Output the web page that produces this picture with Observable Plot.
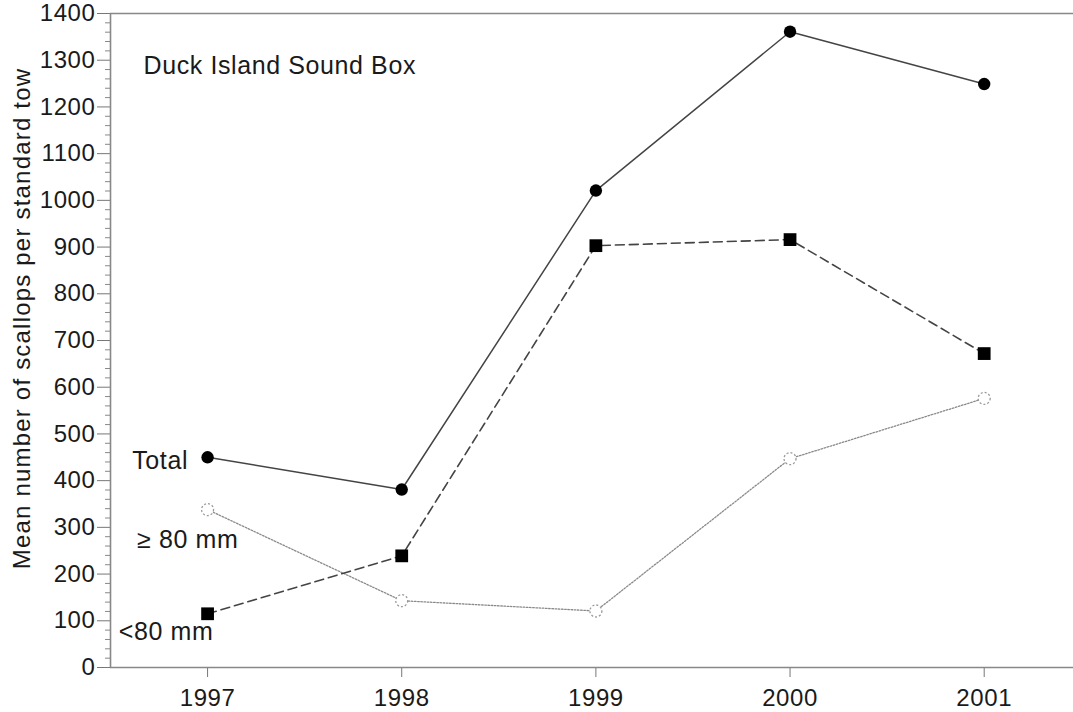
<!DOCTYPE html>
<html>
<head>
<meta charset="utf-8">
<script src="https://cdn.jsdelivr.net/npm/d3@7"></script>
<script src="https://cdn.jsdelivr.net/npm/@observablehq/plot@0.6"></script>
<style>
  html, body { margin: 0; padding: 0; background: white; }
</style>
</head>
<body>
<div id="chart"></div>
<script>
// Data
const years = [1997, 1998, 1999, 2000, 2001];
const total = [450, 381, 1021, 1361, 1249];
const under80 = [115, 239, 903, 916, 672];   // <80 mm
const over80 = [338, 143, 121, 447, 576];    // ≥ 80 mm
const yMajor = d3.range(0, 1401, 100);
const yMinor = d3.range(0, 1401, 20).filter(v => v % 100 !== 0);
const seriesLabels = ["Total", "≥ 80 mm", "<80 mm"];
const seriesLabelX = [1996.612, 1996.637, 1996.543];
const seriesLabelY = [442, 274, 75];
const titleText = "Duck Island Sound Box";
const yTitle = "Mean number of scallops per standard tow";

const tbl = (vals) => years.map((y, i) => ({year: y, v: vals[i]}));
const labelRows = seriesLabels.map((t, i) => ({t, x: seriesLabelX[i], y: seriesLabelY[i]}));

const chart = Plot.plot({
  width: 1073,
  height: 712,
  marginLeft: 110,
  marginRight: 0,
  marginTop: 13,
  marginBottom: 45,
  x: {domain: [1996.5, 2001.46]},
  y: {domain: [0, 1400]},
  style: {fontFamily: "'Liberation Sans', Arial, Helvetica, sans-serif", fontSize: "24px", background: "white", color: "#1a1a1a"},
  marks: [
    Plot.axisY({ticks: yMinor, tickSize: 5, tickFormat: () => "", label: null, stroke: "#888"}),
    Plot.axisY({ticks: yMajor, tickSize: 13, tickPadding: 2, tickFormat: d => String(d), label: null, stroke: "#777", fill: "#1a1a1a", fontSize: 24}),
    Plot.axisX({ticks: years, tickSize: 10, tickPadding: 11, tickFormat: d => String(d), label: null, stroke: "#777", fill: "#1a1a1a", fontSize: 24}),
    Plot.ruleY([0], {stroke: "#888", strokeWidth: 1.6}),
    Plot.ruleY([1400], {stroke: "#888", strokeWidth: 1.6}),
    Plot.ruleX([1996.5], {stroke: "#888", strokeWidth: 1.6}),
    Plot.text([yTitle], {frameAnchor: "left", textAnchor: "middle", rotate: -90, dx: -88, dy: -22, fontSize: 24, fill: "#1a1a1a", className: "ylab"}),
    Plot.text([titleText], {x: [1996.670], y: [1288], textAnchor: "start", fontSize: 25, fill: "#1a1a1a"}),
    Plot.text(labelRows, {x: "x", y: "y", text: "t", textAnchor: "start", fontSize: 25, fill: "#1a1a1a"}),
    // ≥ 80 mm : dotted grey line with open dotted circles
    Plot.line(tbl(over80), {x: "year", y: "v", stroke: "#8a8a8a", strokeWidth: 1.3, strokeDasharray: "1.6,1.6"}),
    Plot.dot(tbl(over80), {x: "year", y: "v", r: 6, fill: "white", stroke: "#999", strokeWidth: 1.3, strokeDasharray: "2,2"}),
    // <80 mm : dashed line with filled squares
    Plot.line(tbl(under80), {x: "year", y: "v", stroke: "#444", strokeWidth: 1.6, strokeDasharray: "9,5"}),
    Plot.dot(tbl(under80), {x: "year", y: "v", symbol: "square", r: 7.2, fill: "black", stroke: "none"}),
    // Total : solid line with filled circles
    Plot.line(tbl(total), {x: "year", y: "v", stroke: "#444", strokeWidth: 1.5}),
    Plot.dot(tbl(total), {x: "year", y: "v", r: 6.2, fill: "black", stroke: "none"})
  ]
});
// slight letter spacing to match the wider lettering of the original
chart.querySelectorAll("text").forEach(t => { t.style.letterSpacing = "0.6px"; });
chart.querySelectorAll(".ylab text").forEach(t => { t.style.letterSpacing = "1.2px"; });
document.getElementById("chart").appendChild(chart);
</script>
</body>
</html>
